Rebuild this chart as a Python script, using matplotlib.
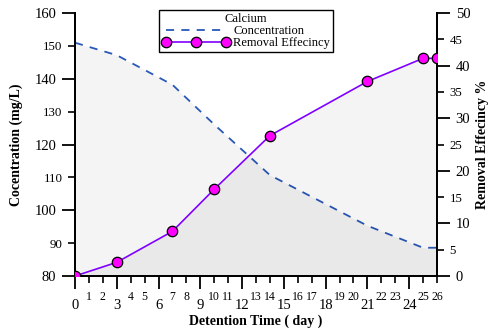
import matplotlib
matplotlib.use('Agg')
import matplotlib.pyplot as plt
from matplotlib.ticker import MultipleLocator, FuncFormatter
from matplotlib.lines import Line2D

# calcium concentration and removal over detention time
days = [0, 3, 7, 10, 14, 21, 25, 26]
conc = [151.0, 147.2, 138.2, 126.1, 110.7, 95.3, 88.6, 88.6]
removal = [0.0, 2.6, 8.5, 16.5, 26.7, 37.0, 41.4, 41.4]

plt.rcParams['font.family'] = ['Liberation Serif', 'DejaVu Serif']

fig = plt.figure(figsize=(4.92, 3.28), dpi=100)
ax = fig.add_axes([0.1524, 0.1585, 0.7358, 0.8015])
ax2 = ax.twinx()

# shaded areas under both curves
ax.fill_between(days, conc, 80, color='k', alpha=0.045, lw=0, zorder=1)
ax2.fill_between(days, removal, 0, color='k', alpha=0.045, lw=0, zorder=1)

ax.plot(days, conc, color='#2a58b8', lw=1.3, ls=(0, (4.5, 4)), zorder=3)
ax2.plot(days, removal, color='#7f00ff', lw=1.2, marker='o', ms=7.5,
         mfc='#ff00ff', mec='k', mew=0.9, zorder=4)

ax.set_xlim(0, 26)
ax.set_ylim(80, 160)
ax2.set_ylim(0, 50)

ax.xaxis.set_major_locator(MultipleLocator(3))
ax.xaxis.set_minor_locator(MultipleLocator(1))
ax.xaxis.set_minor_formatter(FuncFormatter(lambda v, p: '%d' % v))
ax.yaxis.set_major_locator(MultipleLocator(20))
ax.yaxis.set_minor_locator(MultipleLocator(10))
ax.yaxis.set_minor_formatter(FuncFormatter(lambda v, p: '%d' % v))
ax2.yaxis.set_major_locator(MultipleLocator(10))
ax2.yaxis.set_minor_locator(MultipleLocator(5))
ax2.yaxis.set_minor_formatter(FuncFormatter(lambda v, p: '%d' % v))

for a in (ax, ax2):
    a.spines['top'].set_visible(False)
    for s in ('left', 'right', 'bottom'):
        a.spines[s].set_linewidth(1.4)
    a.tick_params(which='major', length=9.5, width=1.3, labelsize=10.5, direction='out')
    a.tick_params(which='minor', length=5, width=1.2, labelsize=9.3, direction='out')

ax.tick_params(axis='x', which='major', pad=7)
ax.tick_params(axis='x', which='minor', labelsize=8.5, pad=6)
ax.tick_params(axis='y', which='both', pad=4)
ax2.tick_params(axis='y', which='both', pad=4)
ax2.patch.set_visible(False)

ax.set_xlabel('Detention Time ( day )', fontsize=10, fontweight='bold', labelpad=2)
ax.set_ylabel('Cocentration (mg/L)', fontsize=10, fontweight='bold', labelpad=8)
ax2.set_ylabel('Removal Effecincy %', fontsize=10, fontweight='bold', labelpad=4)

handles = [
    Line2D([], [], color='#2a58b8', lw=1.3, ls=(0, (4.5, 4))),
    Line2D([], [], color='#7f00ff', lw=1.2, marker='o', ms=7.5,
           mfc='#ff00ff', mec='k', mew=0.9),
]
leg = ax2.legend(handles, ['Concentration', 'Removal Effecincy'], title='Calcium',
                 loc='upper left', bbox_to_anchor=(0.232, 1.011), borderaxespad=0,
                 fontsize=9, title_fontsize=9, handlelength=5.4, numpoints=3,
                 fancybox=False, edgecolor='k', framealpha=1,
                 labelspacing=0.0, borderpad=0.25, handletextpad=0.3)
leg.get_frame().set_linewidth(1.0)

fig.savefig('out.png', dpi=100)
